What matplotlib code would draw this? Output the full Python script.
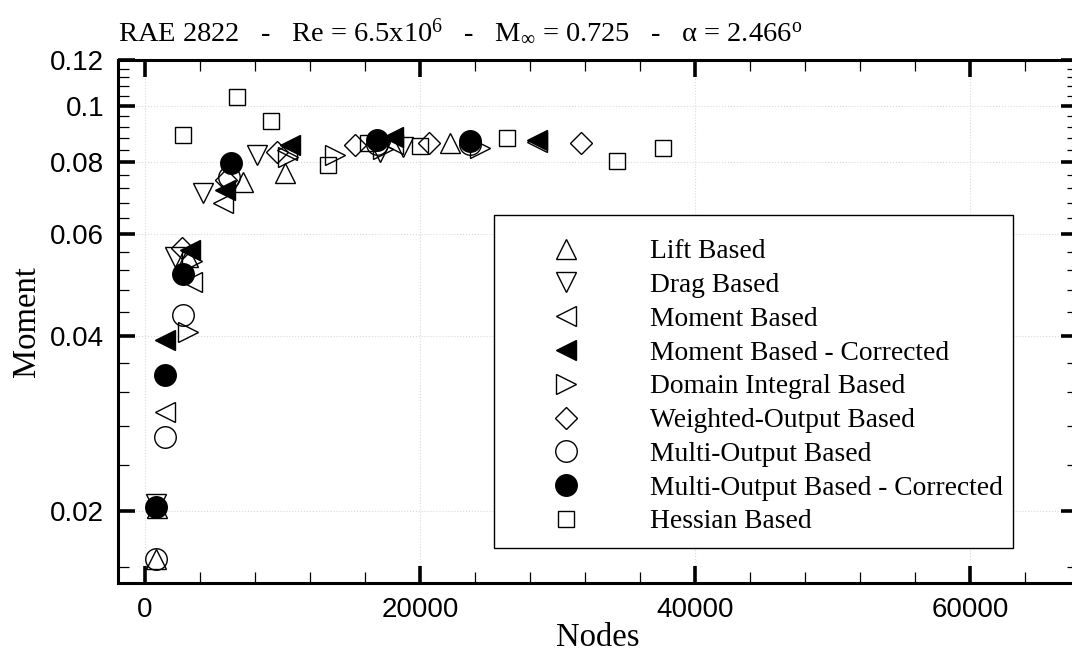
import matplotlib
matplotlib.use("Agg")
import matplotlib.pyplot as plt
from matplotlib.lines import Line2D
from matplotlib.patches import Rectangle
from matplotlib.ticker import FixedLocator, FixedFormatter, NullFormatter

# Data (nodes vs moment coefficient)
lift_x = [780, 900, 3150, 7150, 10180, 22180]
lift_y = [0.0165, 0.0202, 0.0549, 0.0740, 0.0765, 0.0862]

drag_x = [780, 2180, 4220, 8120, 17100, 18790]
drag_y = [0.0205, 0.0549, 0.0707, 0.0823, 0.0834, 0.0850]

moment_x = [1450, 3400, 5650, 10300, 18000, 28490]
moment_y = [0.0296, 0.0497, 0.0679, 0.0838, 0.0860, 0.0865]

momc_x = [1450, 3270, 5820, 10545, 18060, 28490]
momc_y = [0.0394, 0.0564, 0.0716, 0.0856, 0.0884, 0.0873]

domain_x = [3150, 3400, 10420, 13800, 17300, 24360]
domain_y = [0.0407, 0.0540, 0.0817, 0.0823, 0.0843, 0.0845]

weighted_x = [2667, 5900, 9580, 15270, 20650, 31690]
weighted_y = [0.0568, 0.0745, 0.0834, 0.0856, 0.0862, 0.0862]

multi_x = [780, 1450, 2740, 6100, 16850, 23640]
multi_y = [0.0165, 0.0268, 0.0436, 0.0755, 0.0860, 0.0858]

multic_x = [780, 1450, 2740, 6230, 16850, 23640]
multic_y = [0.0203, 0.0343, 0.0513, 0.0798, 0.0873, 0.0871]

hessian_x = [2790, 6667, 9164, 13330, 16240, 20000, 26350, 34360, 37660]
hessian_y = [0.0890, 0.1035, 0.0942, 0.0790, 0.0862, 0.0853, 0.0879, 0.0804, 0.0845]

labels = ["Lift Based", "Drag Based", "Moment Based", "Moment Based - Corrected",
          "Domain Integral Based", "Weighted-Output Based", "Multi-Output Based",
          "Multi-Output Based - Corrected", "Hessian Based"]

y_major = [0.02, 0.04, 0.06, 0.08, 0.1, 0.12]
y_major_labels = ["0.02", "0.04", "0.06", "0.08", "0.1", "0.12"]
x_major = [0, 20000, 40000, 60000]

serif = "Liberation Serif"
sans = "Liberation Sans"
plt.rcParams["mathtext.fontset"] = "custom"
plt.rcParams["mathtext.rm"] = serif
plt.rcParams["mathtext.it"] = serif + ":italic"

W, H = 1072, 652
fig = plt.figure(figsize=(W / 100, H / 100), dpi=100)
# axes placed in pixel terms; right spine sits just past the image edge
left, right, top, bottom = 118, 1078, 60, 583
ax = fig.add_axes([left / W, (H - bottom) / H, (right - left) / W, (bottom - top) / H])

series = [
    (lift_x, lift_y, "^", "none", 14),
    (drag_x, drag_y, "v", "none", 14),
    (moment_x, moment_y, "<", "none", 14),
    (momc_x, momc_y, "<", "black", 14),
    (domain_x, domain_y, ">", "none", 14),
    (weighted_x, weighted_y, "D", "none", 11.5),
    (multi_x, multi_y, "o", "none", 15.5),
    (multic_x, multic_y, "o", "black", 15.5),
    (hessian_x, hessian_y, "s", "none", 12),
]

handles = []
for (xs, ys, mk, fc, ms), lab in zip(series, labels):
    ax.plot(xs, ys, linestyle="none", marker=mk, markersize=ms,
            markerfacecolor=fc, markeredgecolor="black", markeredgewidth=1.0,
            clip_on=False, zorder=3)
    handles.append(Line2D([], [], linestyle="none", marker=mk, markersize=ms,
                          markerfacecolor=fc, markeredgecolor="black",
                          markeredgewidth=1.0))

ax.set_yscale("log")
ax.set_xlim(-1964, (right - 145) / 0.01375)
ax.set_ylim(0.0150, 0.12)

ax.yaxis.set_major_locator(FixedLocator(y_major))
ax.yaxis.set_major_formatter(FixedFormatter(y_major_labels))
y_minor = [round(0.016 + 0.004 * i, 3) for i in range(26)]
y_minor = [v for v in y_minor if all(abs(v - m) > 1e-6 for m in y_major)]
ax.yaxis.set_minor_locator(FixedLocator(y_minor))
ax.yaxis.set_minor_formatter(NullFormatter())

ax.xaxis.set_major_locator(FixedLocator(x_major))
ax.xaxis.set_minor_locator(FixedLocator([v for v in range(0, 68000, 4000) if v % 20000]))

ax.tick_params(which="both", direction="in", top=True, right=True)
ax.tick_params(which="major", length=12, width=2.6, pad=10, labelsize=20)
ax.tick_params(which="minor", length=8, width=0.9)
for t in ax.get_xticklabels() + ax.get_yticklabels():
    t.set_fontfamily(sans)

for s in ax.spines.values():
    s.set_linewidth(2.2)

ax.grid(True, which="major", linestyle=":", color="#dadada", linewidth=0.8)
ax.set_axisbelow(True)

ax.set_xlabel("Nodes", fontfamily=serif, fontsize=23.5, labelpad=0)
ax.set_ylabel("Moment", fontfamily=serif, fontsize=23.5, labelpad=6)

fig.text(left / W, 1 - 40 / H,
         r"RAE 2822   -   Re = 6.5x10$^{6}$   -   M$_{\infty}$ = 0.725   -   "
         "\u03b1 = 2.466$^{\\mathrm{o}}$",
         fontfamily=serif, fontsize=20.5, ha="left", va="baseline")

# legend box drawn separately so its padding matches the reference
ax.add_patch(Rectangle((494 / W, 1 - 548 / H), (1013 - 494) / W, (548 - 215) / H,
                       transform=fig.transFigure, facecolor="white", edgecolor="black",
                       linewidth=1.0, zorder=4, clip_on=False))
leg = ax.legend(handles, labels, loc="upper left",
                bbox_to_anchor=(504 / W, 1 - 239 / H), bbox_transform=fig.transFigure,
                prop={"family": serif, "size": 19.8}, frameon=False,
                borderpad=0, labelspacing=0.31, handlelength=4.5, handletextpad=0.8,
                numpoints=1, borderaxespad=0)
leg.set_zorder(5)

fig.savefig("out.png", dpi=100)
